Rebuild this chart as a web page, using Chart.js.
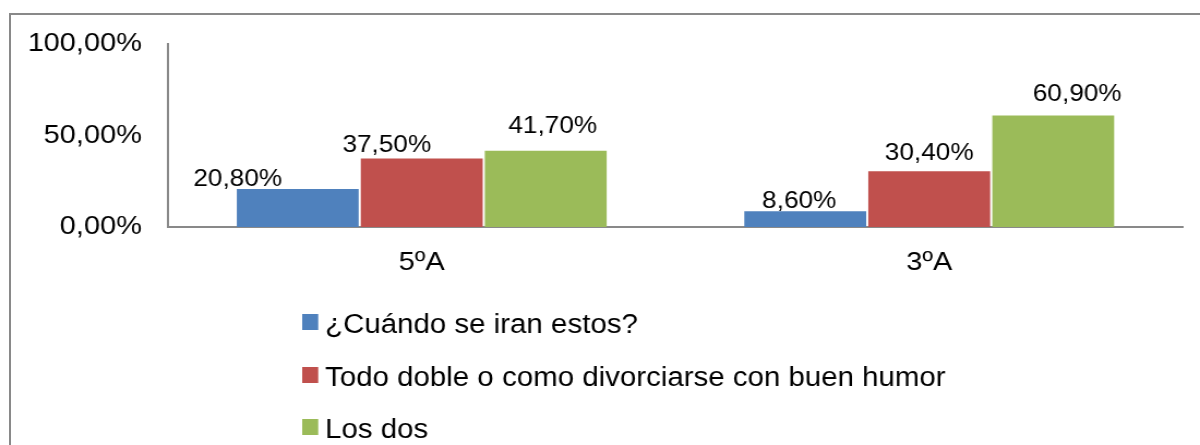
<!DOCTYPE html>
<html><head><meta charset="utf-8">
<script src="https://cdn.jsdelivr.net/npm/chart.js@4.4.1/dist/chart.umd.min.js"></script>
<style>
html,body{margin:0;padding:0;background:#fff;overflow:hidden;width:1200px;height:445px;}
#wrap{position:absolute;left:0;top:0;width:1100px;height:445px;transform:scaleX(1.090909);transform-origin:0 0;}
#frame{position:absolute;left:9px;top:13px;width:1400px;height:600px;border-top:2px solid #898989;border-left:2px solid #898989;}
</style></head><body>
<div id="wrap"><canvas id="c" width="1100" height="445"></canvas></div>
<div id="frame"></div>
<script>
const categories = ['5ºA', '3ºA'];
const seriesNames = ['¿Cuándo se iran estos?', 'Todo doble o como divorciarse con buen humor', 'Los dos'];
const cuandoValues = [20.8, 8.6];
const todoDobleValues = [37.5, 30.4];
const losDosValues = [41.7, 60.9];
const yTickValues = [0, 50, 100];
const seriesColors = ['#4F81BD', '#C0504D', '#9BBB59'];

const FONT = '"Liberation Sans", Arial, sans-serif';
const fmt = v => v.toFixed(2).replace('.', ',') + '%';

const barLabels = {
  id: 'barLabels',
  afterDatasetsDraw(chart, args, opts) {
    const ctx = chart.ctx;
    ctx.save();
    ctx.font = opts.size + 'px ' + FONT;
    ctx.fillStyle = '#000';
    ctx.textAlign = 'center';
    ctx.textBaseline = 'alphabetic';
    chart.data.datasets.forEach((ds, di) => {
      const meta = chart.getDatasetMeta(di);
      meta.data.forEach((bar, i) => {
        ctx.fillText(fmt(ds.data[i]), bar.x + opts.dx[di][i], bar.y - opts.gap[di][i]);
      });
    });
    ctx.restore();
  }
};

const columnLegend = {
  id: 'columnLegend',
  afterDraw(chart, args, opts) {
    const ctx = chart.ctx;
    ctx.save();
    ctx.font = opts.size + 'px ' + FONT;
    ctx.textAlign = 'left';
    ctx.textBaseline = 'alphabetic';
    chart.data.datasets.forEach((ds, i) => {
      const cy = opts.rows[i];
      ctx.fillStyle = ds.backgroundColor;
      ctx.fillRect(opts.boxX, cy - opts.boxH / 2, opts.boxW, opts.boxH);
      ctx.fillStyle = '#000';
      ctx.fillText(ds.label, opts.textX, cy + opts.baseOff);
    });
    ctx.restore();
  }
};

const datasets = [cuandoValues, todoDobleValues, losDosValues].map((vals, i) => ({
  label: seriesNames[i],
  data: vals,
  backgroundColor: seriesColors[i],
  borderWidth: 0,
  barPercentage: 0.983,
  categoryPercentage: 0.733
}));

new Chart(document.getElementById('c'), {
  type: 'bar',
  data: { labels: categories, datasets },
  plugins: [barLabels, columnLegend],
  options: {
    responsive: false,
    animation: false,
    devicePixelRatio: 1,
    layout: { padding: { top: 44, right: 15.6, left: 0, bottom: 0 } },
    plugins: {
      legend: { display: false },
      tooltip: { enabled: false },
      barLabels: {
        size: 24,
        dx: [[-55, -5.5], [-32, 0], [6.4, 22]],
        gap: [[3, 3], [6, 11], [18, 15]]
      },
      columnLegend: {
        size: 27, rows: [322, 375, 427], boxX: 277, boxW: 14.7, boxH: 16, textX: 298, baseOff: 10.5
      }
    },
    scales: {
      x: {
        grid: { display: false, drawTicks: false },
        border: { display: true, color: '#898989', width: 2 },
        ticks: { color: '#000', font: { family: FONT, size: 26.5 }, padding: 20 },
        afterFit(s) { s.height = 218; }
      },
      y: {
        min: 0, max: 100,
        grid: { display: false, drawTicks: false },
        border: { display: true, color: '#898989', width: 2 },
        afterBuildTicks(s) { s.ticks = yTickValues.map(v => ({ value: v })); },
        ticks: { color: '#000', font: { family: FONT, size: 26.5 }, padding: 24, callback: v => fmt(v) },
        afterFit(s) { s.width = 154; }
      }
    }
  }
});
</script>
</body></html>
